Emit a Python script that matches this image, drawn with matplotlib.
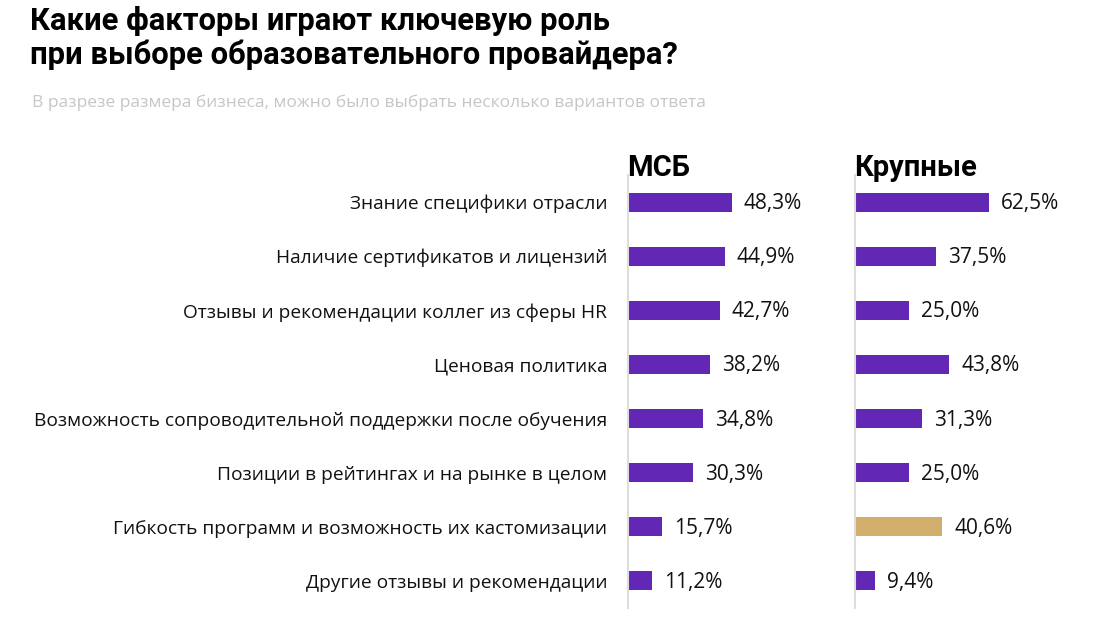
import matplotlib
matplotlib.use("Agg")
import matplotlib.pyplot as plt

categories = [
    "Знание специфики отрасли",
    "Наличие сертификатов и лицензий",
    "Отзывы и рекомендации коллег из сферы HR",
    "Ценовая политика",
    "Возможность сопроводительной поддержки после обучения",
    "Позиции в рейтингах и на рынке в целом",
    "Гибкость программ и возможность их кастомизации",
    "Другие отзывы и рекомендации",
]
msb_values = [48.3, 44.9, 42.7, 38.2, 34.8, 30.3, 15.7, 11.2]
large_values = [62.5, 37.5, 25.0, 43.8, 31.3, 25.0, 40.6, 9.4]
panel_titles = ["МСБ", "Крупные"]
title_lines = ["Какие факторы играют ключевую роль", "при выборе образовательного провайдера?"]
subtitle = "В разрезе размера бизнеса, можно было выбрать несколько вариантов ответа"

PURPLE = "#6228B5"
GOLD = "#D1AE6C"
FONT = ["Open Sans", "DejaVu Sans"]
plt.rcParams["font.family"] = FONT

W, H = 1108, 630
fig = plt.figure(figsize=(W / 100, H / 100), dpi=100)
fig.patch.set_facecolor("white")

def fx(px):
    return px / W

def fy(py):
    return 1 - py / H

ax_top, ax_bot = 175, 608
scale_w = 215  # pixels for 100%
lefts = [628, 855]
series = [msb_values, large_values]
highlight = [[], [6]]

for i, (left, vals) in enumerate(zip(lefts, series)):
    ax = fig.add_axes([fx(left), fy(ax_bot), scale_w / W, (ax_bot - ax_top) / H])
    y = list(range(len(categories)))
    colors = [GOLD if j in highlight[i] else PURPLE for j in y]
    ax.barh(y, vals, height=0.35, color=colors, edgecolor="none")
    ax.set_xlim(0, 100)
    ax.set_ylim(len(categories) - 0.5, -0.5)
    for s in ["top", "right", "bottom"]:
        ax.spines[s].set_visible(False)
    ax.spines["left"].set_color("#dddddd")
    ax.spines["left"].set_linewidth(1.5)
    ax.set_xticks([])
    ax.tick_params(axis="y", length=0)
    if i == 0:
        ax.set_yticks(y)
        ax.set_yticklabels(categories, fontsize=13.8, color="#111111")
        ax.tick_params(axis="y", pad=15)
    else:
        ax.set_yticks([])
    for j, v in enumerate(vals):
        ax.annotate(f"{v:.1f}".replace(".", ",") + "%", xy=(v, j), xytext=(12, -1.5),
                    textcoords="offset pixels", va="center", ha="left",
                    fontsize=15, color="#111111")
    ax.patch.set_alpha(0)
    fig.text(fx(left - 1), fy(176), panel_titles[i], fontsize=21, fontweight="bold",
             color="#000000", ha="left", va="baseline", family=["Roboto", "DejaVu Sans"])

fig.text(fx(30), fy(30), title_lines[0], fontsize=22.3, fontweight="bold", ha="left",
         va="baseline", family=["Roboto", "DejaVu Sans"], color="#000000")
fig.text(fx(30), fy(64), title_lines[1], fontsize=22.3, fontweight="bold", ha="left",
         va="baseline", family=["Roboto", "DejaVu Sans"], color="#000000")
fig.text(fx(32), fy(107), subtitle, fontsize=12.5, ha="left", va="baseline",
         color="#c6c6c6")

fig.savefig("out.png", dpi=100, facecolor="white")
